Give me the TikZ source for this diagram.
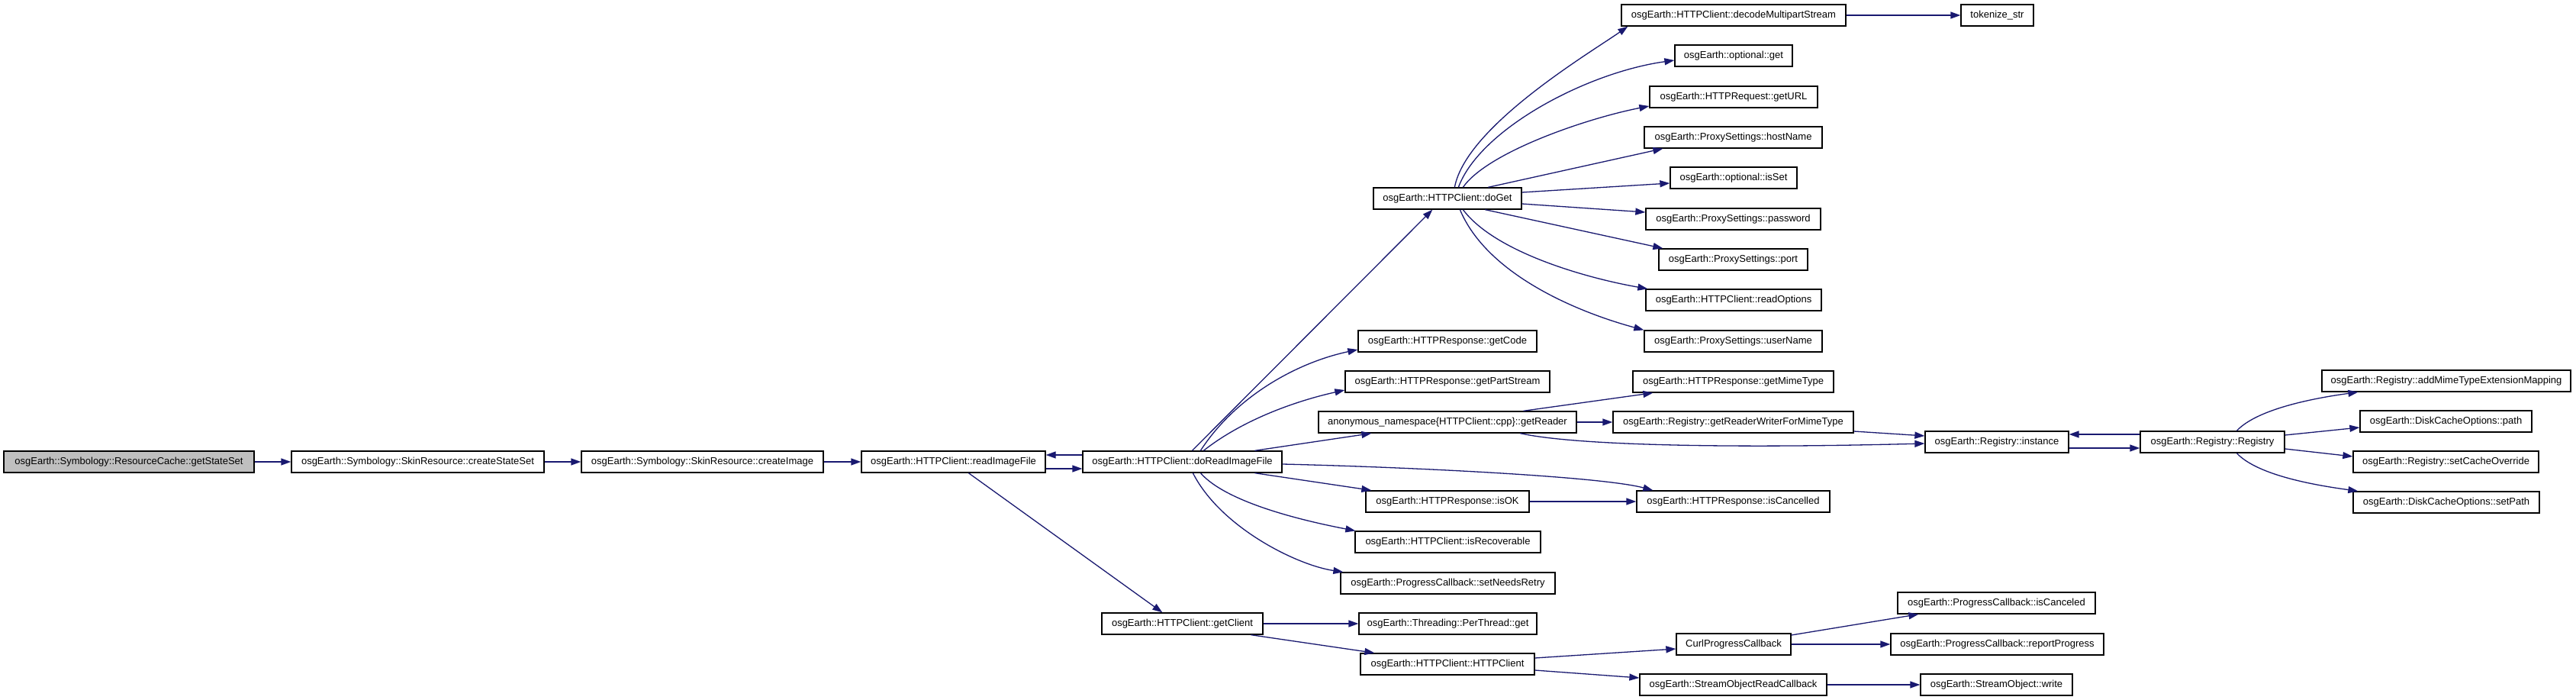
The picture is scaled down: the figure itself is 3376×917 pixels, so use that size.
\documentclass[tikz,border=0pt]{standalone}
\usepackage{fontspec}
\setmainfont{Liberation Sans}
\usetikzlibrary{arrows.meta}
\definecolor{edgecol}{HTML}{191970}
\definecolor{rootfill}{HTML}{BFBFBF}
\tikzset{
  box/.style={draw=black, line width=1.3pt, fill=white, minimum height=28pt,
    inner xsep=2pt, inner ysep=0pt, anchor=center,
    font=\fontsize{13}{15}\selectfont},
  edge/.style={draw=edgecol, line width=1.3pt, -{Triangle[length=13pt,width=9pt]}}
}
\begin{document}
\begin{tikzpicture}[x=1pt,y=-1pt]
\useasboundingbox[fill=white] (0,0) rectangle (3376,917);
% nodes
\node[box, fill=rootfill, minimum width=328pt] (gss) at (169,605) {osgEarth::Symbology::ResourceCache::getStateSet};
\node[box, minimum width=331pt] (css) at (547.5,605) {osgEarth::Symbology::SkinResource::createStateSet};
\node[box, minimum width=317pt] (cimg) at (920.5,605) {osgEarth::Symbology::SkinResource::createImage};
\node[box, minimum width=241pt] (rif) at (1249.5,605) {osgEarth::HTTPClient::readImageFile};
\node[box, minimum width=261pt] (drif) at (1549.5,605) {osgEarth::HTTPClient::doReadImageFile};
\node[box, minimum width=194pt] (doget) at (1897,260) {osgEarth::HTTPClient::doGet};
\node[box, minimum width=294pt] (dms) at (2272,20) {osgEarth::HTTPClient::decodeMultipartStream};
\node[box, minimum width=95pt] (tok) at (2617.5,20) {tokenize\_str};
\node[box, minimum width=154pt] (optget) at (2272,73) {osgEarth::optional::get};
\node[box, minimum width=220pt] (geturl) at (2272,127) {osgEarth::HTTPRequest::getURL};
\node[box, minimum width=233pt] (host) at (2271.5,180) {osgEarth::ProxySettings::hostName};
\node[box, minimum width=166pt] (isset) at (2272,233) {osgEarth::optional::isSet};
\node[box, minimum width=229pt] (pwd) at (2271.5,287) {osgEarth::ProxySettings::password};
\node[box, minimum width=195pt] (port) at (2271.5,340) {osgEarth::ProxySettings::port};
\node[box, minimum width=230pt] (ropt) at (2272,393) {osgEarth::HTTPClient::readOptions};
\node[box, minimum width=233pt] (user) at (2271.5,447) {osgEarth::ProxySettings::userName};
\node[box, minimum width=234pt] (code) at (1897,447) {osgEarth::HTTPResponse::getCode};
\node[box, minimum width=268pt] (part) at (1897,500) {osgEarth::HTTPResponse::getPartStream};
\node[box, minimum width=338pt] (grd) at (1897,553) {anonymous\_namespace\{HTTPClient::cpp\}::getReader};
\node[box, minimum width=263pt] (mime) at (2271.5,500) {osgEarth::HTTPResponse::getMimeType};
\node[box, minimum width=315pt] (grw) at (2271.5,553) {osgEarth::Registry::getReaderWriterForMimeType};
\node[box, minimum width=188pt] (inst) at (2617,579) {osgEarth::Registry::instance};
\node[box, minimum width=189pt] (reg) at (2899.5,579) {osgEarth::Registry::Registry};
\node[box, minimum width=326pt] (addm) at (3206,499) {osgEarth::Registry::addMimeTypeExtensionMapping};
\node[box, minimum width=225pt] (dpath) at (3205.5,552) {osgEarth::DiskCacheOptions::path};
\node[box, minimum width=243pt] (sco) at (3205.5,605) {osgEarth::Registry::setCacheOverride};
\node[box, minimum width=244pt] (spath) at (3206,658) {osgEarth::DiskCacheOptions::setPath};
\node[box, minimum width=214pt] (isok) at (1897,657) {osgEarth::HTTPResponse::isOK};
\node[box, minimum width=253pt] (iscl) at (2271.5,657) {osgEarth::HTTPResponse::isCancelled};
\node[box, minimum width=243pt] (isrec) at (1897.5,710) {osgEarth::HTTPClient::isRecoverable};
\node[box, minimum width=281pt] (snr) at (1897.5,764) {osgEarth::ProgressCallback::setNeedsRetry};
\node[box, minimum width=211pt] (gcl) at (1549.5,817) {osgEarth::HTTPClient::getClient};
\node[box, minimum width=233pt] (ptg) at (1897.5,817) {osgEarth::Threading::PerThread::get};
\node[box, minimum width=228pt] (ctor) at (1897,870) {osgEarth::HTTPClient::HTTPClient};
\node[box, minimum width=150pt] (curl) at (2272,844) {CurlProgressCallback};
\node[box, minimum width=259pt] (iscd) at (2616.5,790) {osgEarth::ProgressCallback::isCanceled};
\node[box, minimum width=279pt] (rprog) at (2617.5,844) {osgEarth::ProgressCallback::reportProgress};
\node[box, minimum width=245pt] (sorc) at (2271.5,897) {osgEarth::StreamObjectReadCallback};
\node[box, minimum width=199pt] (sow) at (2616.5,897) {osgEarth::StreamObject::write};
% edges: main row
\draw[edge] (gss.east) -- (css.west);
\draw[edge] (css.east) -- (cimg.west);
\draw[edge] (cimg.east) -- (rif.west);
\draw[edge] ([yshift=-9pt]rif.east) -- ([yshift=-9pt]drif.west);
\draw[edge] ([yshift=9pt]drif.west) -- ([yshift=9pt]rif.east);
\draw[edge] ([xshift=141pt]rif.south west) -- ([xshift=80pt]gcl.north west);
% doReadImageFile
\draw[edge] ([xshift=144pt]drif.north west) -- ([xshift=78pt]doget.south west);
\draw[edge] ([xshift=155pt]drif.north west) .. controls +(46,-71) and +(-80,17) .. ([yshift=-11pt]code.west);
\draw[edge] ([xshift=159pt]drif.north west) .. controls +(52,-41) and +(-63,14) .. ([yshift=-11pt]part.west);
\draw[edge] ([xshift=226pt]drif.north west) -- ([xshift=70pt]grd.south west);
\draw[edge] ([yshift=-3pt]drif.east) .. controls +(170,4) and +(-67,-18) .. ([xshift=22pt]iscl.north west);
\draw[edge] ([xshift=226pt]drif.south west) -- ([xshift=8pt]isok.north west);
\draw[edge] ([xshift=155pt]drif.south west) .. controls +(36,41) and +(-57,-11) .. ([xshift=1pt]isrec.north west);
\draw[edge] ([xshift=145pt]drif.south west) .. controls +(36,71) and +(-61,-9) .. ([xshift=4pt]snr.north west);
% doGet
\draw[edge] ([xshift=107pt]doget.north west) .. controls +(15,-80) and +(-50,35) .. ([xshift=9pt]dms.south west);
\draw[edge] ([xshift=112pt]doget.north west) .. controls +(28,-76) and +(-115,16) .. ([yshift=-6pt]optget.west);
\draw[edge] ([xshift=118pt]doget.north west) .. controls +(32,-46) and +(-82,16) .. ([yshift=-12pt]geturl.west);
\draw[edge] ([xshift=151pt]doget.north west) -- ([xshift=25pt]host.south west);
\draw[edge] ([yshift=8pt]doget.east) -- ([yshift=-7pt]isset.west);
\draw[edge] ([yshift=-7pt]doget.east) -- ([yshift=9pt]pwd.west);
\draw[edge] ([xshift=147pt]doget.south west) -- ([xshift=6pt]port.north west);
\draw[edge] ([xshift=118pt]doget.south west) .. controls +(42,56) and +(-80,-14) .. ([xshift=3pt]ropt.north west);
\draw[edge] ([xshift=114pt]doget.south west) .. controls +(36,86) and +(-85,-23) .. (user.north west);
\draw[edge] (dms.east) -- (tok.west);
% getReader
\draw[edge] ([xshift=269pt]grd.north west) -- ([xshift=27pt]mime.south west);
\draw[edge] (grd.east) -- (grw.west);
\draw[edge] ([xshift=265pt]grd.south west) .. controls +(67,15) and +(-273,7) .. ([yshift=-2pt]inst.west);
\draw[edge] ([yshift=-12pt]grw.east) -- ([yshift=8pt]inst.west);
% Registry
\draw[edge] ([yshift=-8pt]inst.east) -- ([yshift=-8pt]reg.west);
\draw[edge] ([yshift=10pt]reg.west) -- ([yshift=10pt]inst.east);
\draw[edge] ([xshift=127pt]reg.north west) .. controls +(28,-30) and +(-51,7) .. ([xshift=48pt]addm.south west);
\draw[edge] ([yshift=9pt]reg.east) -- ([yshift=-8pt]dpath.west);
\draw[edge] ([yshift=-9pt]reg.east) -- ([yshift=7pt]sco.west);
\draw[edge] ([xshift=127pt]reg.south west) .. controls +(28,30) and +(-51,-7) .. ([xshift=7pt]spath.north west);
% others
\draw[edge] (isok.east) -- (iscl.west);
\draw[edge] (gcl.east) -- (ptg.west);
\draw[edge] ([xshift=196pt]gcl.south west) -- ([xshift=19pt]ctor.north west);
\draw[edge] ([yshift=8pt]ctor.east) -- ([yshift=-6pt]curl.west);
\draw[edge] ([yshift=-8pt]ctor.east) -- ([yshift=9pt]sorc.west);
\draw[edge] ([yshift=12pt]curl.east) -- ([xshift=28pt]iscd.south west);
\draw[edge] (curl.east) -- (rprog.west);
\draw[edge] (sorc.east) -- (sow.west);
\end{tikzpicture}
\end{document}
